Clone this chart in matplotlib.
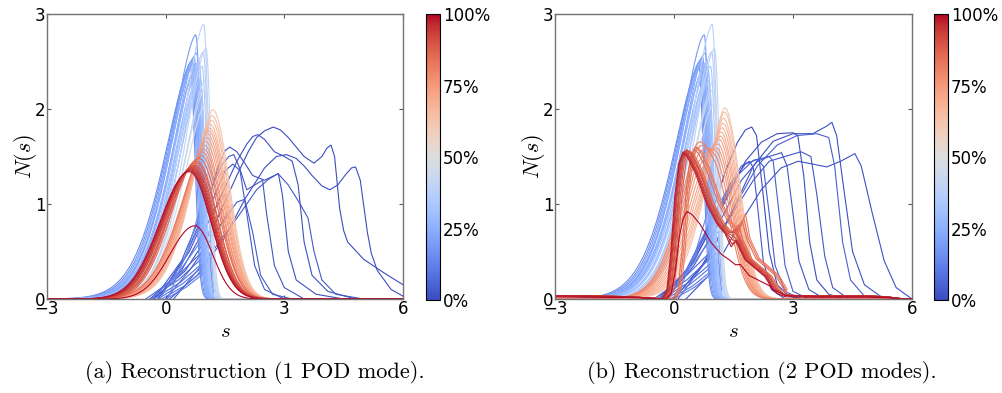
import numpy as np
import matplotlib.pyplot as plt
from matplotlib.cm import ScalarMappable
from matplotlib.colors import Normalize

plt.rcParams['mathtext.fontset'] = 'cm'

# ---- data ----
# light blue spikes (15-46 %), nearly the same in both panels: colour, peak s, peak N, left width
spike_c = [0.15, 0.17, 0.19, 0.20, 0.21, 0.22, 0.23, 0.24, 0.25, 0.26, 0.27, 0.28, 0.29, 0.30,
           0.31, 0.32, 0.34, 0.36, 0.38, 0.40, 0.42, 0.44, 0.46]
spike_mu = [0.62, 0.65, 0.76, 0.68, 0.70, 0.72, 0.78, 0.74, 0.70, 0.76, 0.78, 0.80, 0.82, 0.84,
            0.86, 0.88, 0.92, 0.95, 0.96, 1.02, 1.00, 0.98, 1.00]
spike_h = [2.45, 2.50, 2.78, 2.52, 2.48, 2.55, 2.59, 2.42, 2.50, 2.45, 2.48, 2.40, 2.35, 2.50,
           2.38, 2.30, 2.45, 2.60, 2.89, 2.64, 2.30, 2.20, 2.05]
spike_wl = [1.00, 0.98, 0.95, 0.97, 0.95, 0.94, 0.92, 0.94, 0.96, 0.93, 0.92, 0.92, 0.90, 0.90,
            0.90, 0.88, 0.87, 0.86, 0.86, 0.84, 0.85, 0.85, 0.85]
spike_wr = 0.12

# panel (a): smooth peaks, orange 62-82 % then red 86-100 %
peak_a_c = [0.62, 0.64, 0.655, 0.67, 0.685, 0.70, 0.715, 0.73, 0.745, 0.76, 0.775, 0.79, 0.82,
            0.86, 0.87, 0.88, 0.89, 0.90, 0.915, 0.93, 0.945, 0.96, 0.975, 0.99, 1.00]
peak_a_mu = [1.19, 1.17, 1.15, 1.12, 1.10, 1.08, 1.05, 1.03, 1.00, 0.97, 0.95, 0.92, 0.90,
             0.85, 0.80, 0.78, 0.75, 0.72, 0.70, 0.68, 0.66, 0.64, 0.62, 0.60, 0.74]
peak_a_h = [1.99, 1.93, 1.88, 1.84, 1.80, 1.77, 1.74, 1.70, 1.66, 1.62, 1.58, 1.55, 1.51,
            1.48, 1.45, 1.43, 1.41, 1.40, 1.39, 1.38, 1.37, 1.36, 1.35, 1.34, 0.77]
peak_a_wl = [0.80, 0.80, 0.81, 0.81, 0.82, 0.82, 0.83, 0.83, 0.84, 0.85, 0.85, 0.86, 0.87,
             1.00, 1.00, 1.01, 1.01, 1.02, 1.02, 1.03, 1.03, 1.04, 1.04, 1.05, 0.90]
peak_a_pl = [1.6] * 13 + [2.0] * 12
peak_a_wr = [0.42, 0.42, 0.43, 0.43, 0.44, 0.44, 0.45, 0.45, 0.46, 0.46, 0.47, 0.47, 0.48,
             0.50, 0.50, 0.51, 0.51, 0.52, 0.52, 0.52, 0.53, 0.53, 0.53, 0.54, 0.45]

# panel (b): orange peaks 62-82 %, main peak + shoulder near s = 0.5
peak_b_c = [0.62, 0.64, 0.655, 0.67, 0.685, 0.70, 0.715, 0.73, 0.745, 0.76, 0.775, 0.79, 0.805]
peak_b_mu = [1.28, 1.27, 1.25, 1.24, 1.22, 1.20, 1.19, 1.17, 1.15, 1.14, 1.12, 1.10, 1.08]
peak_b_h = [2.00, 1.95, 1.88, 1.82, 1.76, 1.70, 1.64, 1.58, 1.50, 1.42, 1.34, 1.24, 1.12]
peak_b_sh = [0.15, 0.20, 0.25, 0.30, 0.35, 0.42, 0.50, 0.58, 0.68, 0.78, 0.88, 0.98, 1.08]

# panel (b): red curves 82-100 %, steep rise near s = 0
red_b_c = [0.82, 0.835, 0.85, 0.865, 0.88, 0.895, 0.91, 0.925, 0.94, 0.96, 0.98, 1.00]
red_b_shift = [0.30, 0.26, 0.22, 0.12, 0.08, 0.05, 0.03, 0.0, -0.02, -0.04, -0.06, 0.05]
red_b_peak = [1.60, 1.60, 1.58, 1.56, 1.56, 1.57, 1.57, 1.56, 1.55, 1.55, 1.54, 0.92]
red_b_bump = [0.90, 0.85, 0.82, 0.78, 0.74, 0.72, 0.70, 0.66, 0.62, 0.58, 0.55, 0.36]
red_b_s = [-3.0, -2.0, -1.2, -0.6, -0.25, -0.12, -0.02, 0.08, 0.18, 0.28, 0.40, 0.60, 0.90,
           1.15, 1.35, 1.50, 1.62, 1.85, 2.10, 2.35, 2.55, 2.80, 3.50, 5.00, 5.40, 5.80, 6.0]
red_b_n = [0.035, 0.03, 0.025, 0.01, 0.0, 0.1, 0.5, 1.1, 1.45, 1.57, 1.52, 1.35, 1.0,
           0.80, 0.70, 0.72, 0.62, 0.42, 0.33, 0.24, 0.10, 0.04, 0.03, 0.03, 0.02, 0.0, 0.0]
red_b_bump_idx = 15

# short medium-blue ramps ending at the spike edge (both panels)
ramp_c = [0.06, 0.07, 0.08, 0.09, 0.10, 0.11, 0.12, 0.13, 0.14]
ramp_s0 = [-0.5, -0.4, -0.3, -0.2, -0.1, 0.0, -0.35, -0.15, 0.05]
ramp_h = [0.55, 0.48, 0.42, 0.38, 0.33, 0.30, 0.70, 0.95, 1.20]

# dark blue wide curves (0-5 %), knots (s, N)
wide_a_c = [0.0, 0.005, 0.01, 0.015, 0.02, 0.025, 0.03, 0.035]
wide_a = [
    [(-0.3, 0), (0.5, 0.3), (1.2, 0.75), (1.8, 1.3), (2.1, 1.56), (2.3, 1.7), (2.5, 1.77), (2.72, 1.81),
     (2.9, 1.78), (3.1, 1.7), (3.3, 1.6), (3.5, 1.5), (3.75, 1.43), (3.95, 1.5), (4.08, 1.59), (4.18, 1.62),
     (4.27, 1.5), (4.4, 0.95), (4.5, 0.72), (4.6, 0.6), (5.0, 0.42), (5.5, 0.28), (6.0, 0.15)],
    [(0.1, 0), (0.8, 0.25), (1.5, 0.65), (2.0, 1.05), (2.5, 1.38), (2.8, 1.5), (3.05, 1.52), (3.3, 1.48),
     (3.5, 1.4), (3.7, 1.3), (3.95, 1.19), (4.15, 1.15), (4.35, 1.2), (4.55, 1.31), (4.7, 1.38), (4.8, 1.39),
     (4.92, 1.25), (5.1, 0.7), (5.2, 0.48), (5.35, 0.3), (5.7, 0.1), (6.0, 0.03)],
    [(-0.4, 0), (0.4, 0.3), (1.2, 0.9), (1.8, 1.45), (2.05, 1.63), (2.2, 1.71), (2.33, 1.73), (2.5, 1.68),
     (2.75, 1.55), (3.0, 1.5), (3.2, 1.45), (3.35, 1.2), (3.5, 0.6), (3.7, 0.25), (4.1, 0.08), (4.8, 0.0)],
    [(-0.2, 0), (0.5, 0.45), (1.0, 0.95), (1.35, 1.42), (1.5, 1.56), (1.62, 1.6), (1.8, 1.55), (2.0, 1.43),
     (2.2, 1.3), (2.5, 1.25), (2.75, 1.3), (2.85, 1.32), (2.95, 1.1), (3.1, 0.5), (3.3, 0.2), (3.8, 0.05),
     (4.5, 0)],
    [(-0.3, 0), (0.4, 0.4), (1.0, 1.0), (1.4, 1.4), (1.6, 1.5), (1.72, 1.52), (1.85, 1.4), (2.05, 1.15),
     (2.25, 1.2), (2.45, 1.25), (2.55, 0.9), (2.75, 0.35), (3.0, 0.12), (3.5, 0)],
    [(-0.2, 0), (0.6, 0.5), (1.2, 1.05), (1.5, 1.35), (1.7, 1.42), (1.88, 1.35), (2.05, 0.9), (2.25, 0.35),
     (2.5, 0.1), (3.0, 0)],
    [(0.2, 0), (1.0, 0.4), (1.8, 0.85), (2.3, 1.15), (2.6, 1.26), (2.84, 1.32), (3.1, 1.2), (3.4, 1.0),
     (3.6, 0.85), (3.75, 0.5), (3.95, 0.2), (4.3, 0.05), (5.0, 0)],
    [(0.0, 0), (0.6, 0.3), (1.1, 0.6), (1.5, 0.85), (1.8, 1.02), (2.0, 1.05), (2.2, 0.7), (2.4, 0.25),
     (2.7, 0.05), (3.2, 0)],
]
wide_b_c = [0.0, 0.005, 0.01, 0.015, 0.02, 0.025, 0.03, 0.035, 0.04, 0.045]
wide_b = [
    [(-0.5, 0), (0.2, 0.2), (0.8, 0.7), (1.3, 1.35), (1.6, 1.65), (1.8, 1.78), (1.96, 1.81), (2.08, 1.72),
     (2.22, 1.2), (2.4, 0.5), (2.6, 0.15), (2.9, 0.03), (3.3, 0)],
    [(-0.3, 0), (0.5, 0.4), (1.2, 0.95), (1.8, 1.45), (2.2, 1.65), (2.6, 1.74), (3.0, 1.75), (3.12, 1.72),
     (3.27, 1.3), (3.42, 0.6), (3.6, 0.2), (3.9, 0.05), (4.3, 0)],
    [(0.0, 0), (0.8, 0.4), (1.5, 0.95), (2.0, 1.4), (2.5, 1.66), (3.0, 1.74), (3.5, 1.74), (3.85, 1.82),
     (3.98, 1.86), (4.1, 1.72), (4.3, 1.1), (4.5, 0.5), (4.8, 0.15), (5.2, 0.03), (5.6, 0)],
    [(0.3, 0), (1.0, 0.3), (1.6, 0.75), (2.2, 1.15), (2.7, 1.38), (3.13, 1.45), (3.5, 1.42), (3.85, 1.39),
     (4.2, 1.45), (4.56, 1.53), (4.72, 1.4), (5.0, 0.9), (5.3, 0.4), (5.6, 0.12), (6.0, 0.0)],
    [(-0.2, 0), (0.5, 0.35), (1.2, 0.85), (1.7, 1.25), (2.1, 1.45), (2.4, 1.5), (2.71, 1.54), (2.85, 1.4),
     (3.0, 0.9), (3.15, 0.4), (3.4, 0.1), (3.8, 0)],
    [(0.0, 0), (0.7, 0.35), (1.4, 0.85), (2.0, 1.25), (2.4, 1.45), (2.8, 1.5), (3.2, 1.55), (3.45, 1.5),
     (3.6, 1.1), (3.8, 0.45), (4.0, 0.12), (4.4, 0)],
    [(-0.4, 0), (0.3, 0.3), (0.9, 0.8), (1.4, 1.2), (1.7, 1.4), (1.9, 1.45), (2.0, 1.38), (2.1, 1.0),
     (2.25, 0.4), (2.45, 0.1), (2.8, 0)],
    [(-0.3, 0), (0.4, 0.35), (1.0, 0.85), (1.5, 1.25), (1.8, 1.42), (2.1, 1.47), (2.25, 1.4), (2.4, 0.9),
     (2.55, 0.35), (2.8, 0.08), (3.2, 0)],
    [(-0.2, 0), (0.5, 0.4), (1.1, 0.9), (1.6, 1.3), (2.0, 1.46), (2.4, 1.5), (2.5, 1.45), (2.65, 0.9),
     (2.8, 0.35), (3.0, 0.08), (3.4, 0)],
    [(0.1, 0), (0.9, 0.45), (1.5, 0.95), (2.1, 1.4), (2.6, 1.62), (3.1, 1.72), (3.6, 1.74), (3.9, 1.7),
     (4.05, 1.4), (4.25, 0.6), (4.45, 0.2), (4.8, 0.03), (5.2, 0)],
]

s = np.linspace(-3, 6, 1801)
cmap = plt.get_cmap('coolwarm')


def bump(mu, h, wl, wr, pl=1.6):
    left = h * np.exp(-(np.abs(s - mu) / wl) ** pl)
    right = h * np.exp(-0.5 * ((s - mu) / wr) ** 2)
    return np.where(s < mu, left, right)


def common_curves():
    out = []
    for c, s0, h in zip(ramp_c, ramp_s0, ramp_h):
        out.append((c, [s0, 0.5 * (s0 + 1.05), 1.05, 1.13, 1.2], [0, 0.42 * h, h, h * 1.01, 0]))
    for c, mu, h, wl in zip(spike_c, spike_mu, spike_h, spike_wl):
        out.append((c, s, bump(mu, h, wl, spike_wr)))
    return out


def panel_a():
    out = [(c, [p[0] for p in pts], [p[1] for p in pts]) for c, pts in zip(wide_a_c, wide_a)]
    out += common_curves()
    for c, mu, h, wl, wr, pl in zip(peak_a_c, peak_a_mu, peak_a_h, peak_a_wl, peak_a_wr, peak_a_pl):
        out.append((c, s, bump(mu, h, wl, wr, pl)))
    return out


def panel_b():
    out = [(c, [p[0] for p in pts], [p[1] for p in pts]) for c, pts in zip(wide_b_c, wide_b)]
    out += common_curves()
    for c, mu, h, sh in zip(peak_b_c, peak_b_mu, peak_b_h, peak_b_sh):
        out.append((c, s, bump(mu, h, 0.65, 0.38) + bump(0.5, sh, 0.75, 0.35)))
    for c, dx, pk, bp in zip(red_b_c, red_b_shift, red_b_peak, red_b_bump):
        xs = [v + dx if -0.3 < v < 2.6 else v for v in red_b_s]
        ys = [v * pk / 1.57 for v in red_b_n]
        ys[red_b_bump_idx] = bp
        out.append((c, xs, ys))
    return out


fig = plt.figure(figsize=(10.02, 3.93), dpi=100)
axes = [fig.add_axes([0.0469, 0.2392, 0.3553, 0.7252]),
        fig.add_axes([0.5539, 0.2392, 0.3563, 0.7252])]
caxes = [fig.add_axes([0.4251, 0.2366, 0.0140, 0.7277]),
         fig.add_axes([0.9321, 0.2366, 0.0140, 0.7277])]
captions = ['(a) Reconstruction (1 POD mode).', '(b) Reconstruction (2 POD modes).']
caption_x = [0.2545, 0.7605]

for ax, cax, curves, cap, cx in zip(axes, caxes, [panel_a(), panel_b()], captions, caption_x):
    for c, xs, ys in sorted(curves, key=lambda t: t[0]):
        ax.plot(xs, ys, color=cmap(c), lw=0.8, solid_joinstyle='round')
    ax.set_xlim(-3, 6)
    ax.set_ylim(0, 3)
    ax.set_xticks([-3, 0, 3, 6])
    ax.set_yticks([0, 1, 2, 3])
    ax.tick_params(direction='in', length=3, width=0.8, top=True, right=True,
                   labelsize=12, pad=1, colors='0.35', labelcolor='black')
    for sp in ax.spines.values():
        sp.set_color('0.45')
        sp.set_linewidth(1.0)
    ax.set_xlabel(r'$s$', fontsize=15, labelpad=2)
    ax.set_ylabel(r'$N(s)$', fontsize=16, labelpad=-3)

    cb = fig.colorbar(ScalarMappable(norm=Normalize(0, 100), cmap='coolwarm'), cax=cax,
                      ticks=[0, 25, 50, 75, 100])
    cb.set_ticklabels(['0%', '25%', '50%', '75%', '100%'])
    cb.ax.tick_params(length=0, pad=2, labelsize=12)
    cb.outline.set_linewidth(0.8)

    fig.text(cx, 0.051, cap, ha='center', va='center', family='cmr10', fontsize=16)

fig.savefig('out.png', dpi=100)
